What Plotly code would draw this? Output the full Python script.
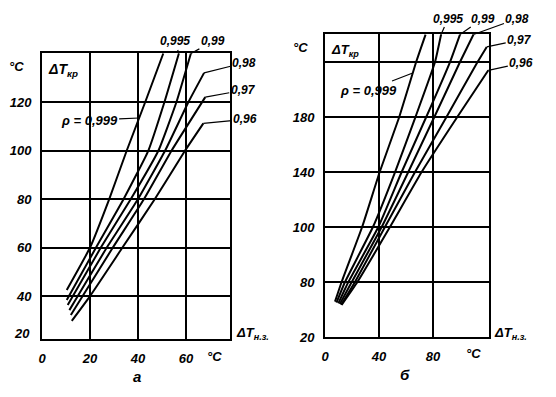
import numpy as np
import plotly.graph_objects as go

# page geometry (the browser body adds an 8px margin around the figure)
OFF = 8
W, H = 556 - 2 * OFF, 397 - 2 * OFF

# ---------------- data: panel "а" ----------------
a_levels = ["0,999", "0,995", "0,99", "0,98", "0,97", "0,96"]
a999_x = [10.3, 20, 28, 35.3, 43, 50.5]
a999_y = [42.5, 60, 80, 100, 120, 140]
a995_x = [10.3, 22.5, 34, 44.3, 51, 57]
a995_y = [38.4, 60, 80, 100, 120, 140]
a99_x = [10.7, 24.5, 37, 48.5, 56, 62]
a99_y = [36.3, 60, 80, 100, 120, 140]
a98_x = [11.4, 27, 40, 51.3, 61, 67.5]
a98_y = [34.2, 60, 80, 100, 120, 132]
a97_x = [12, 29.5, 42.5, 54, 68]
a97_y = [32.2, 60, 80, 100, 122]
a96_x = [12.4, 20, 33.5, 47, 59.6, 67.2]
a96_y = [29.8, 40, 60, 80, 100, 111.2]

a_xticks = [0, 20, 40, 60]
a_yticks = [40, 60, 80, 100, 120]

# ---------------- data: panel "б" ----------------
b999_x = [7.4, 12.3, 27.5, 40.5, 55, 67.5, 74.5]
b999_y = [45.7, 60, 100, 140, 180, 220, 240]
b995_x = [8.5, 14.8, 35.5, 51.9, 67, 81.5, 86]
b995_y = [45, 60, 100, 140, 180, 220, 240]
b99_x = [9.9, 17.3, 39.5, 56.8, 75, 92.6, 100]
b99_y = [44.5, 60, 100, 140, 180, 220, 240]
b98_x = [11, 19.8, 42, 61.7, 81, 100, 110]
b98_y = [44, 60, 100, 140, 180, 220, 240]
b97_x = [12, 22.2, 44.4, 66.7, 90, 113, 119.8]
b97_y = [43.5, 60, 100, 140, 180, 220, 231]
b96_x = [12.3, 24, 48.1, 71.6, 98, 121]
b96_y = [43.3, 60, 100, 140, 180, 214]

b_xticks = [0, 40, 80]
b_yticks = [20, 60, 100, 140, 180, 220]
b_yticktext = ["20", "80", "100", "140", "180", ""]

# ---------------- figure ----------------
fig = go.Figure()
LW = 2.0

a_curves = [(a999_x, a999_y), (a995_x, a995_y), (a99_x, a99_y),
            (a98_x, a98_y), (a97_x, a97_y), (a96_x, a96_y)]
b_curves = [(b999_x, b999_y), (b995_x, b995_y), (b99_x, b99_y),
            (b98_x, b98_y), (b97_x, b97_y), (b96_x, b96_y)]

for cx, cy in a_curves:
    fig.add_trace(go.Scatter(x=cx, y=cy, mode="lines", xaxis="x", yaxis="y",
                             line=dict(color="black", width=LW, shape="spline", smoothing=0.4),
                             showlegend=False, hoverinfo="skip"))
for cx, cy in b_curves:
    fig.add_trace(go.Scatter(x=cx, y=cy, mode="lines", xaxis="x2", yaxis="y2",
                             line=dict(color="black", width=LW, shape="spline", smoothing=0.4),
                             showlegend=False, hoverinfo="skip"))

FONT = dict(family="Liberation Sans, Arial, sans-serif", size=13, color="black",
            style="italic", weight="bold")


def px(x):
    return (x - OFF) / W


def py(y):
    return 1 - (y - OFF) / H


axis_common = dict(showline=True, linewidth=2, linecolor="black", mirror=True,
                   showgrid=True, gridcolor="black", gridwidth=1.6, zeroline=False,
                   ticks="outside", tickcolor="white", ticklen=6, tickfont=FONT,
                   automargin=False, fixedrange=True)

fig.update_layout(
    width=W, height=H,
    margin=dict(l=0, r=0, t=0, b=0, pad=0),
    autosize=False,
    paper_bgcolor="white", plot_bgcolor="white",
    font=FONT,
    showlegend=False,
    xaxis=dict(domain=[px(42), px(230)], range=[-0.01, 78.3], tickvals=a_xticks,
               ticktext=[str(v) for v in a_xticks], anchor="y", **axis_common),
    yaxis=dict(domain=[py(339), py(53)], range=[22.3, 140.2], tickvals=a_yticks,
               ticktext=[str(v) for v in a_yticks], anchor="x", **axis_common),
    xaxis2=dict(domain=[px(325), px(489)], range=[-0.01, 121.5], tickvals=b_xticks,
                ticktext=[str(v) for v in b_xticks], anchor="y2", **axis_common),
    yaxis2=dict(domain=[py(337), py(34)], range=[19.99, 240.4], tickvals=b_yticks,
                ticktext=b_yticktext, anchor="x2", **axis_common),
)

ann = []


def paper_text(text, x, y, size=13, xanchor="center"):
    ann.append(dict(text=text, x=px(x), y=py(y), xref="paper", yref="paper",
                    showarrow=False, xanchor=xanchor, yanchor="middle",
                    font=dict(FONT, size=size)))


# static labels panel а
paper_text("°C", 16, 66)
paper_text("ΔT<sub>кр</sub>", 63, 70, size=14)
paper_text("20", 22, 333)
paper_text("°C", 214, 356)
paper_text("ΔT<sub>н.з.</sub>", 234, 333, size=13, xanchor="left")
paper_text("а", 137, 376, size=15)
# static labels panel б
paper_text("°C", 300, 47)
paper_text("ΔT<sub>кр</sub>", 345, 51, size=13)
paper_text("°C", 473, 353)
paper_text("ΔT<sub>н.з.</sub>", 492, 333, size=13, xanchor="left")
paper_text("б", 405, 374, size=15)


def pointer(text, x, y, ax, ay, xr, yr, size=12):
    ann.append(dict(text=text, x=x, y=y, xref=xr, yref=yr, ax=ax, ay=ay,
                    showarrow=True, arrowhead=0, arrowwidth=1.2, arrowcolor="black",
                    standoff=0, font=dict(FONT, size=size)))


# pointers panel а
ya = 113.4
pointer("ρ = 0,999", float(np.interp(ya, a999_y, a999_x)), ya, -50, 2, "x", "y", size=13)
pointer(a_levels[1], a995_x[-1], a995_y[-1], -4, -12, "x", "y")
pointer(a_levels[2], a99_x[-1], a99_y[-1], 22, -12, "x", "y")
pointer(a_levels[3], a98_x[-1], a98_y[-1], 40, -10, "x", "y")
pointer(a_levels[4], a97_x[-1], a97_y[-1], 38, -7, "x", "y")
pointer(a_levels[5], a96_x[-1], a96_y[-1], 42, -4, "x", "y")

# pointers panel б
yb = 212
pointer("ρ = 0,999", float(np.interp(yb, b999_y, b999_x)), yb, -44, 17, "x2", "y2", size=13)
pointer(a_levels[1], b995_x[-1], b995_y[-1], 7, -16, "x2", "y2")
pointer(a_levels[2], b99_x[-1], b99_y[-1], 23, -16, "x2", "y2")
pointer(a_levels[3], b98_x[-1], b98_y[-1], 44, -16, "x2", "y2")
pointer(a_levels[4], b97_x[-1], b97_y[-1], 33, -7, "x2", "y2")
pointer(a_levels[5], b96_x[-1], b96_y[-1], 33, -7, "x2", "y2")

fig.update_layout(annotations=ann)

fig.write_html("out.html")
